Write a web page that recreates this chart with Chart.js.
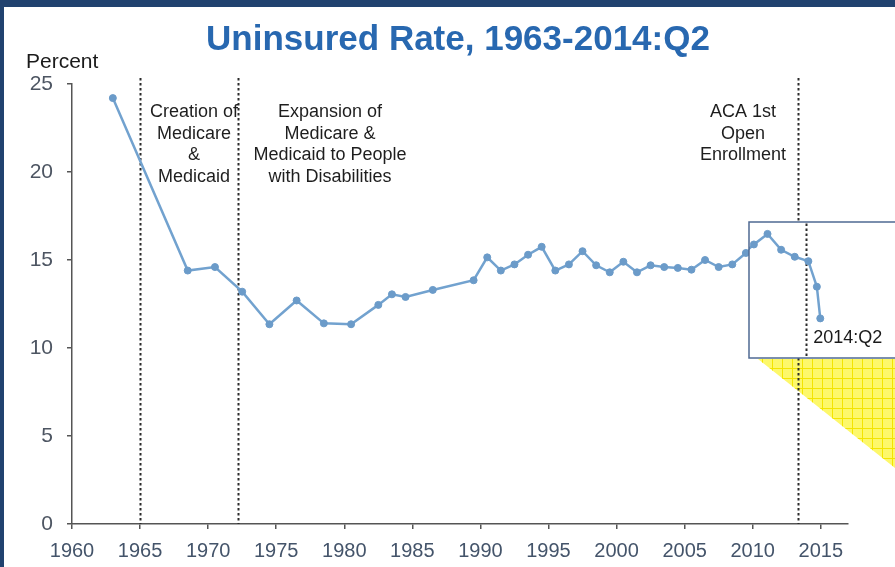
<!DOCTYPE html>
<html>
<head>
<meta charset="utf-8">
<script src="https://cdn.jsdelivr.net/npm/chart.js@4/dist/chart.umd.min.js"></script>
<style>
  html, body { margin: 0; padding: 0; background: #fff; overflow: hidden; }
  canvas { display: block; }
</style>
</head>
<body>
<canvas id="chart" width="895" height="567"></canvas>
<script>
// Uninsured rate by year (annual values plotted at mid-year, 2014 quarterly)
const years = [1963, 1968.5, 1970.5, 1972.5, 1974.5, 1976.5, 1978.5, 1980.5, 1982.5, 1983.5,
  1984.5, 1986.5, 1989.5, 1990.5, 1991.5, 1992.5, 1993.5, 1994.5, 1995.5, 1996.5,
  1997.5, 1998.5, 1999.5, 2000.5, 2001.5, 2002.5, 2003.5, 2004.5, 2005.5, 2006.5,
  2007.5, 2008.5, 2009.5, 2010.5, 2011.5, 2012.5, 2013.5, 2014.125, 2014.375];
const uninsuredRate = [24.2, 14.4, 14.6, 13.2, 11.35, 12.7, 11.4, 11.35, 12.45, 13.05,
  12.9, 13.3, 13.85, 15.15, 14.4, 14.75, 15.3, 15.75, 14.4, 14.75,
  15.5, 14.7, 14.3, 14.9, 14.3, 14.7, 14.6, 14.55, 14.45, 15.0,
  14.6, 14.75, 15.4, 16.0, 15.1, 14.7, 14.45, 13.0, 11.2];

const xTickValues = [1960, 1965, 1970, 1975, 1980, 1985, 1990, 1995, 2000, 2005, 2010, 2015];
const yTickValues = [0, 5, 10, 15, 20, 25];

// Policy milestones marked with dotted verticals
const eventYears = [1965, 1972.2, 2013.3];
const eventLabels = [
  ['Creation of', 'Medicare', '&', 'Medicaid'],
  ['Expansion of', 'Medicare &', 'Medicaid to People', 'with Disabilities'],
  ['ACA 1st', 'Open', 'Enrollment']
];
const eventLabelX = [194, 330, 743];

const titleText = 'Uninsured Rate, 1963-2014:Q2';
const yAxisTitle = 'Percent';
const lastPointLabel = '2014:Q2';

const FONT = '"Liberation Sans", Arial, Helvetica, sans-serif';
const NAVY = '#21426f';

// Callout panel on the right, showing the latest stretch of the series offset slightly
const panel = { left: 749, top: 222, bottom: 358, dx: 8, dy: -8.5 };

function dashedLine(ctx, x, y1, y2) {
  ctx.save();
  ctx.strokeStyle = '#2b2b2b';
  ctx.lineWidth = 2;
  ctx.setLineDash([2.5, 2.5]);
  ctx.beginPath();
  ctx.moveTo(x, y1);
  ctx.lineTo(x, y2);
  ctx.stroke();
  ctx.restore();
}

const decorations = {
  id: 'decorations',
  beforeDraw(chart) {
    const ctx = chart.ctx;
    const W = chart.width, H = chart.height;
    ctx.save();
    ctx.fillStyle = '#ffffff';
    ctx.fillRect(0, 0, W, H);
    // slide frame
    ctx.fillStyle = NAVY;
    ctx.fillRect(0, 0, W, 7);
    ctx.fillRect(0, 0, 4, H);

    // yellow callout pointer with grid texture
    ctx.beginPath();
    ctx.moveTo(758, 359);
    ctx.lineTo(W, 359);
    ctx.lineTo(W, 468);
    ctx.closePath();
    ctx.save();
    ctx.clip();
    ctx.fillStyle = '#fdf86a';
    ctx.fillRect(750, 355, W - 750, 120);
    ctx.strokeStyle = '#f3e400';
    ctx.lineWidth = 1;
    for (let x = 762.5; x < W; x += 10) {
      ctx.beginPath(); ctx.moveTo(x, 355); ctx.lineTo(x, 475); ctx.stroke();
    }
    for (let y = 368.5; y < 475; y += 10) {
      ctx.beginPath(); ctx.moveTo(750, y); ctx.lineTo(W, y); ctx.stroke();
    }
    ctx.restore();

    // title
    ctx.fillStyle = '#2868b0';
    ctx.font = 'bold 35px ' + FONT;
    ctx.textAlign = 'center';
    ctx.textBaseline = 'alphabetic';
    ctx.fillText(titleText, 458, 50);

    // y-axis unit label
    ctx.fillStyle = '#1a1a1a';
    ctx.font = '21px ' + FONT;
    ctx.textAlign = 'left';
    ctx.textBaseline = 'middle';
    ctx.fillText(yAxisTitle, 26, 62);
    ctx.restore();
  },
  beforeDatasetsDraw(chart) {
    const ctx = chart.ctx;
    const xs = chart.scales.x;
    const bottom = chart.chartArea.bottom;
    eventYears.forEach(yr => dashedLine(ctx, Math.round(xs.getPixelForValue(yr)) + 0.5, 78, bottom));

    ctx.save();
    ctx.fillStyle = '#1e1e1e';
    ctx.font = '18px ' + FONT;
    ctx.textAlign = 'center';
    ctx.textBaseline = 'middle';
    eventLabels.forEach((lines, i) => {
      lines.forEach((t, j) => ctx.fillText(t, eventLabelX[i], 112 + j * 21.6));
    });
    ctx.restore();
  },
  afterDraw(chart) {
    const ctx = chart.ctx;
    const W = chart.width;
    const xs = chart.scales.x;
    const meta = chart.getDatasetMeta(0);

    ctx.save();
    ctx.fillStyle = '#ffffff';
    ctx.fillRect(panel.left, panel.top, W - panel.left + 5, panel.bottom - panel.top);
    ctx.beginPath();
    ctx.rect(panel.left, panel.top, W - panel.left + 5, panel.bottom - panel.top);
    ctx.clip();
    ctx.translate(panel.dx, panel.dy);
    dashedLine(ctx, Math.round(xs.getPixelForValue(eventYears[2])) + 0.5, panel.top - 20, panel.bottom + 20);
    meta.controller.draw();
    ctx.restore();

    // panel border
    ctx.save();
    ctx.strokeStyle = '#4f6a93';
    ctx.lineWidth = 1.5;
    ctx.strokeRect(panel.left, panel.top, W - panel.left + 5, panel.bottom - panel.top);

    // label for the latest quarter
    const last = meta.data[meta.data.length - 1];
    ctx.fillStyle = '#1a1a1a';
    ctx.font = '18px ' + FONT;
    ctx.textAlign = 'left';
    ctx.textBaseline = 'middle';
    ctx.fillText(lastPointLabel, last.x + panel.dx - 7, last.y + panel.dy + 20);
    ctx.restore();
  }
};

new Chart(document.getElementById('chart'), {
  type: 'line',
  data: {
    datasets: [{
      data: years.map((x, i) => ({ x, y: uninsuredRate[i] })),
      borderColor: '#72a2cf',
      borderWidth: 2.5,
      pointRadius: 3.5,
      pointBackgroundColor: '#6b9bc9',
      pointBorderColor: '#6b9bc9',
      pointBorderWidth: 1,
      tension: 0,
      fill: false
    }]
  },
  options: {
    responsive: false,
    animation: false,
    devicePixelRatio: 1,
    layout: { padding: { top: 84, right: 47, left: 0, bottom: 0 } },
    plugins: { legend: { display: false }, tooltip: { enabled: false }, title: { display: false } },
    scales: {
      x: {
        type: 'linear',
        min: 1960,
        max: 2017,
        afterBuildTicks: s => { s.ticks = xTickValues.map(v => ({ value: v })); },
        afterFit: s => { s.height = 43; },
        grid: { drawOnChartArea: false, drawTicks: true, tickLength: 5, color: '#555', lineWidth: 1.5 },
        border: { display: true, color: '#555', width: 1.5 },
        ticks: {
          autoSkip: false,
          maxRotation: 0,
          padding: 10,
          color: '#44546a',
          font: { family: FONT, size: 20 },
          callback: v => String(v)
        }
      },
      y: {
        type: 'linear',
        min: 0,
        max: 25,
        afterBuildTicks: s => { s.ticks = yTickValues.map(v => ({ value: v })); },
        afterFit: s => { s.width = 72; },
        grid: { drawOnChartArea: false, drawTicks: true, tickLength: 5, color: '#555', lineWidth: 1.5 },
        border: { display: true, color: '#555', width: 1.5 },
        ticks: {
          padding: 14,
          color: '#4d5562',
          font: { family: FONT, size: 21 },
          callback: v => String(v)
        }
      }
    }
  },
  plugins: [decorations]
});
</script>
</body>
</html>
